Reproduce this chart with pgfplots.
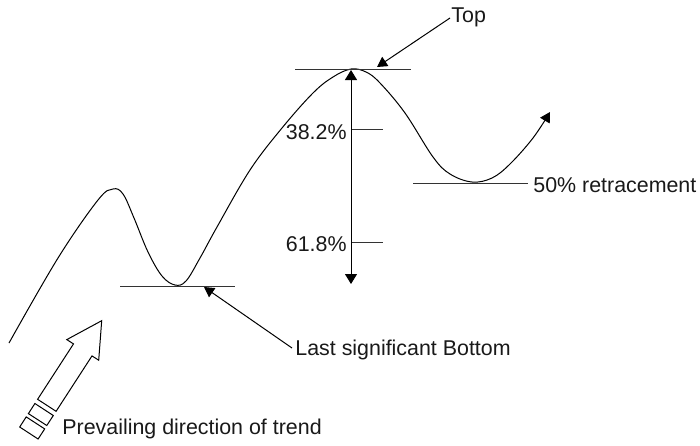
\documentclass[border=0pt]{standalone}
\usepackage{pgfplots}
\pgfplotsset{compat=1.18}
\usetikzlibrary{arrows.meta}
\usepackage{fontspec}
\setmainfont{Liberation Sans}

\begin{document}
\begin{tikzpicture}
\begin{axis}[
    scale only axis,
    width=350pt, height=222.5pt,
    xmin=0, xmax=700, ymin=0, ymax=445,
    y dir=reverse,
    hide axis,
    clip=false,
    every axis plot/.append style={line width=0.5pt},
    tip/.style={-{Triangle[length=5pt,width=5.5pt]}},
]
% keep the page the size of the whole drawing area
\path[use as bounding box] (axis cs:0,0) rectangle (axis cs:700,445);

% price path
\addplot[black, smooth, tension=0.6, tip] coordinates {
    (9,343) (58,258) (98,200) (113,189)
    (123,194) (134,218) (148,252) (162,276) (175,285)
    (186,281) (200,258) (217,227) (250,170) (282,128)
    (313,93) (333,77) (351,69) (366,72) (380,83) (405,113) (433,157)
    (450,174) (472,182) (492,178) (510,164) (533,138) (550,112)};

% reference levels
\addplot[black!80] coordinates {(295,69) (411,69)};
\addplot[black!80] coordinates {(120,286) (235,286)};
\addplot[black!80] coordinates {(413,183) (528,183)};
\addplot[black!80] coordinates {(351,129) (383,129)};
\addplot[black!80] coordinates {(351,242) (383,242)};

% retracement span
\addplot[black, {Triangle[length=5pt,width=6pt]}-{Triangle[length=5pt,width=6pt]}]
    coordinates {(351,70) (351,284)};

% callouts
\addplot[black, tip] coordinates {(450,18) (377,67)};
\addplot[black, tip] coordinates {(292,348) (204,287)};

% hollow trend arrow
\addplot[black, fill=white] coordinates {
    (37.6,399.3) (73.5,343.9) (66.8,339.6) (101.7,320.7)
    (98.7,360.2) (92.0,355.9) (56.1,411.3)} -- cycle;
\addplot[black, fill=white] coordinates {
    (34.9,403.5) (53.3,415.5) (46.8,425.5) (28.4,413.6)} -- cycle;
\addplot[black, fill=white] coordinates {
    (26.2,416.9) (44.7,428.9) (38.1,439.0) (19.7,427.0)} -- cycle;

% labels
\begin{scope}[font=\fontsize{10.7}{12}\selectfont, text=black!90]
\node[anchor=west, inner sep=0pt] at (axis cs:451,17) {Top};
\node[anchor=east, inner sep=0pt] at (axis cs:347,132) {38.2\%};
\node[anchor=east, inner sep=0pt] at (axis cs:347,244) {61.8\%};
\node[anchor=west, inner sep=0pt] at (axis cs:533,185) {50\% retracement};
\node[anchor=west, inner sep=0pt] at (axis cs:295,350) {Last significant Bottom};
\node[anchor=west, inner sep=0pt] at (axis cs:62,429) {Prevailing direction of trend};
\end{scope}
\end{axis}
\end{tikzpicture}
\end{document}
